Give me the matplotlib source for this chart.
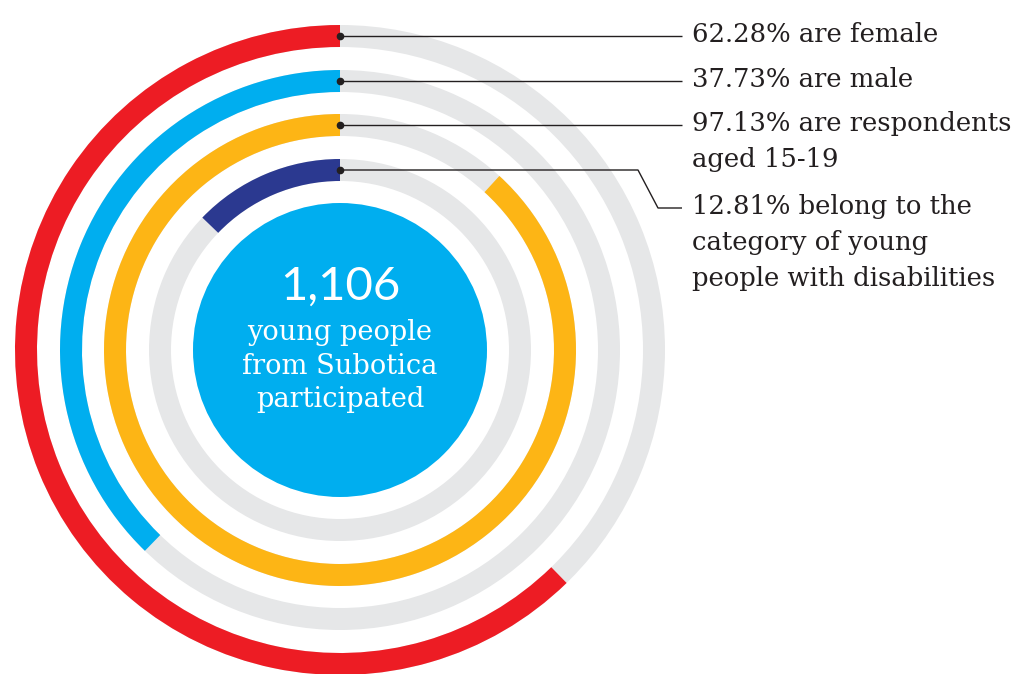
import matplotlib.pyplot as plt
from matplotlib.patches import Wedge, Circle

# label texts and the arc each ring draws (percent of a full turn)
labels = ["62.28% are female",
          "37.73% are male",
          "97.13% are respondents\naged 15-19",
          "12.81% belong to the\ncategory of young\npeople with disabilities"]
arc_pct = [62.28, 37.73, 88.2, 12.81]   # yellow arc is drawn shorter than its label in the source
colors = ["#ED1C24", "#00AEEF", "#FDB515", "#2B3990"]
total = "1,106"
center_lines = ["young people", "from Subotica", "participated"]

W, H = 1023, 674
fig = plt.figure(figsize=(W / 100, H / 100), dpi=100)
ax = fig.add_axes([0, 0, 1, 1])
ax.set_xlim(0, W)
ax.set_ylim(0, H)
ax.set_aspect("equal")
ax.axis("off")


def Y(p):
    # pixel row (from top) -> axis y
    return H - p


cx, cy = 340, Y(350)
r_outer = [325, 280, 236, 191]
ring_w = 22
gray = "#E6E7E8"
ink = "#231F20"
text_x, line_end = 692, 682

for i, (pct, col) in enumerate(zip(arc_pct, colors)):
    r = r_outer[i]
    ax.add_patch(Wedge((cx, cy), r, 0, 360, width=ring_w, color=gray, lw=0))
    ax.add_patch(Wedge((cx, cy), r, 90, 90 + pct * 3.6, width=ring_w, color=col, lw=0))

    ly = cy + r - ring_w / 2
    if i < 3:
        xs, ys = [cx, line_end], [ly, ly]
        tb = ly
    else:
        tb = Y(208)
        xs = [cx, 638, 658, line_end]
        ys = [ly, ly, tb, tb]
    ax.plot(xs, ys, color=ink, lw=1.0, solid_capstyle="butt")
    ax.plot(cx, ly, "o", ms=4.5, color=ink)
    for k, line in enumerate(labels[i].split("\n")):
        ax.text(text_x, tb - 6 - k * 36, line, fontsize=18.6, family="DejaVu Serif",
                color=ink, ha="left", va="baseline")

# centre disc
ax.add_patch(Circle((cx, cy), 147, color="#00AEEF", lw=0))
ax.text(cx, Y(300), total, fontsize=34, family="Lato",
        color="white", ha="center", va="baseline")
for k, line in enumerate(center_lines):
    ax.text(cx, Y(340 + k * 33.5), line, fontsize=19.6, family="DejaVu Serif",
            color="white", ha="center", va="baseline")

fig.savefig("out.png", dpi=100)
